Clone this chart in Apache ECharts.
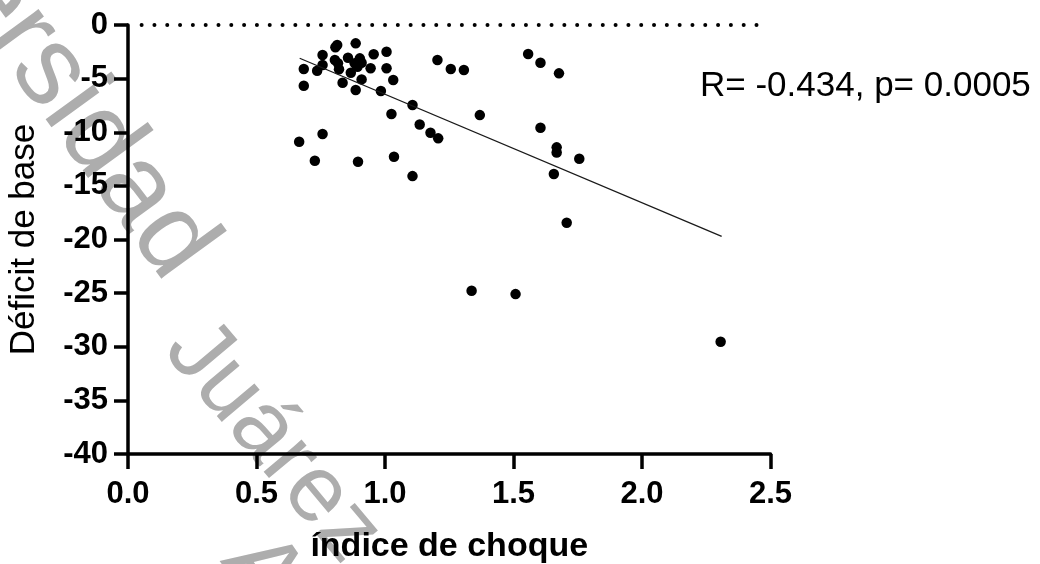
<!DOCTYPE html>
<html>
<head>
<meta charset="utf-8">
<script src="https://cdn.jsdelivr.net/npm/echarts@6/dist/echarts.min.js"></script>
<style>
  html, body { margin: 0; padding: 0; background: #fff; }
  #main { width: 1040px; height: 564px; }
</style>
</head>
<body>
<div id="main"></div>
<script>
// índice de choque (x) vs déficit de base (y)
const shockIndex = [
  0.814, 0.807, 0.886, 0.757, 0.956, 1.006, 0.805, 0.856, 0.902, 0.909,
  0.757, 0.684, 0.736, 0.817, 0.821, 0.882, 0.893, 0.867, 0.944, 1.006,
  0.909, 1.032, 0.684, 0.835, 0.886, 0.984, 1.107,
  1.204, 1.256, 1.307,
  1.025, 1.135, 1.177, 1.207, 0.666, 0.757, 0.727, 0.895, 1.035, 1.107, 1.369,
  1.557, 1.605, 1.677, 1.605, 1.668, 1.668, 1.756, 1.657, 1.707,
  1.337, 1.508, 2.306
];
const baseDeficit = [
  -1.87, -2.08, -1.71, -2.80, -2.73, -2.49, -3.26, -3.05, -3.11, -3.52,
  -3.73, -4.10, -4.26, -3.57, -4.13, -3.57, -3.89, -4.45, -4.04, -4.04,
  -5.07, -5.13, -5.66, -5.38, -6.06, -6.16, -7.46,
  -3.26, -4.10, -4.20,
  -8.30, -9.27, -10.05, -10.57, -10.88, -10.17, -12.66, -12.75, -12.28, -14.09, -8.40,
  -2.71, -3.52, -4.51, -9.58, -11.41, -11.88, -12.47, -13.90, -18.44,
  -24.78, -25.09, -29.54
];

// fitted line end points as drawn
const fitX = [0.668, 2.31];
const fitY = [-3.1, -19.7];

// dotted reference line at zero
const zeroX = [0.053, 2.46];
const zeroY = [0, 0];

const xTicks = [0, 0.5, 1, 1.5, 2, 2.5];
const yTicks = [-40, -35, -30, -25, -20, -15, -10, -5, 0];

const statText = 'R= -0.434, p= 0.0005';

const chart = echarts.init(document.getElementById('main'), null, { renderer: 'canvas' });

const font = '"Liberation Sans", Arial, sans-serif';
const deg = Math.PI / 180;

// watermark pieces (grey, rotated)
const wm = (text, x, y, angle, size) => ({
  type: 'text',
  x: x, y: y,
  rotation: -angle * deg,
  z: -10,
  silent: true,
  style: {
    text: text,
    font: size + 'px ' + font,
    fill: '#adadad',
    textAlign: 'left',
    textVerticalAlign: 'middle'
  }
});

const option = {
  backgroundColor: '#fff',
  animation: false,
  grid: { left: 128, right: 269.5, top: 25, bottom: 110, outerBoundsMode: 'none', containLabel: false },
  xAxis: {
    type: 'value',
    min: xTicks[0],
    max: xTicks[xTicks.length - 1],
    interval: 0.5,
    name: 'índice de choque',
    nameLocation: 'middle',
    nameGap: 76,
    nameTextStyle: { fontFamily: font, fontSize: 34, fontWeight: 'bold', color: '#000' },
    axisLine: { onZero: false, lineStyle: { color: '#000', width: 3.5 } },
    axisTick: { length: 15, lineStyle: { color: '#000', width: 3.5 } },
    axisLabel: {
      margin: 25,
      fontFamily: font, fontSize: 31, fontWeight: 'bold', color: '#000',
      formatter: v => v.toFixed(1)
    },
    splitLine: { show: false }
  },
  yAxis: {
    type: 'value',
    min: yTicks[0],
    max: yTicks[yTicks.length - 1],
    interval: 5,
    name: 'Déficit de base',
    nameLocation: 'middle',
    nameRotate: 90,
    nameGap: 86,
    nameTextStyle: { fontFamily: font, fontSize: 35, color: '#000' },
    axisLine: { onZero: false, lineStyle: { color: '#000', width: 3.5 } },
    axisTick: { length: 14, lineStyle: { color: '#000', width: 3.5 } },
    axisLabel: {
      margin: 20,
      fontFamily: font, fontSize: 31, fontWeight: 'bold', color: '#000'
    },
    splitLine: { show: false }
  },
  graphic: [
    wm('Universidad', -157, -212, 54, 112),
    wm('Juárez', 182, 334, 50, 94),
    wm('Autónoma', 242, 545, 55, 100),
    {
      type: 'text',
      x: 700, y: 86,
      style: {
        text: statText,
        font: '35px ' + font,
        fill: '#000',
        textAlign: 'left',
        textVerticalAlign: 'middle'
      }
    }
  ],
  series: [
    {
      type: 'line',
      data: zeroX.map((x, i) => [x, zeroY[i]]),
      showSymbol: false,
      clip: false,
      silent: true,
      lineStyle: { color: '#000', width: 4, type: [0.01, 12.8], cap: 'round' },
      z: 3
    },
    {
      type: 'scatter',
      data: shockIndex.map((x, i) => [x, baseDeficit[i]]),
      symbol: 'circle',
      symbolSize: 10.5,
      itemStyle: { color: '#000', opacity: 1 },
      z: 4
    },
    {
      type: 'line',
      data: fitX.map((x, i) => [x, fitY[i]]),
      showSymbol: false,
      silent: true,
      lineStyle: { color: '#1a1a1a', width: 1.3 },
      z: 5
    }
  ]
};

chart.setOption(option);
</script>
</body>
</html>
